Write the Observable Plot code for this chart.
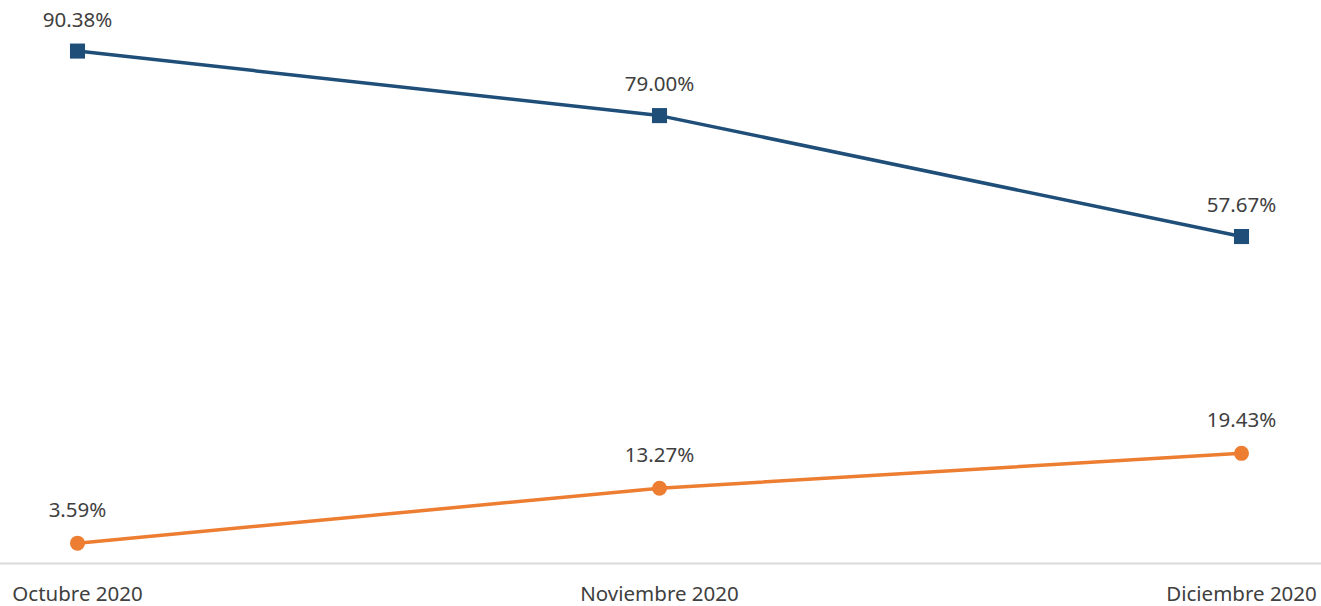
<!DOCTYPE html>
<html><head><meta charset="utf-8">
<script src="https://cdn.jsdelivr.net/npm/d3@7"></script>
<script src="https://cdn.jsdelivr.net/npm/@observablehq/plot@0.6"></script>
<style>body{margin:0;background:#fff}</style>
</head><body><div id="chart"></div>
<script>
const months = ["Octubre 2020", "Noviembre 2020", "Diciembre 2020"];
const seriesA = [90.38, 79.00, 57.67];
const seriesB = [3.59, 13.27, 19.43];
const dataA = months.map((m, i) => ({month: m, value: seriesA[i]}));
const dataB = months.map((m, i) => ({month: m, value: seriesB[i]}));
const blue = "#1F4E79", orange = "#ED7D31";
const fmt = v => v.toFixed(2) + "%";
const chart = Plot.plot({
  width: 1321, height: 606,
  marginLeft: 76, marginRight: 80, marginTop: 0, marginBottom: 43,
  style: {fontFamily: "'Noto Sans', sans-serif", fontSize: "20px", color: "#404040", background: "#fff"},
  x: {type: "point", domain: months, padding: 0, label: null},
  y: {domain: [0, 99.3], axis: null},
  marks: [
    Plot.ruleY([0], {stroke: "#d9d9d9", strokeWidth: 2, insetLeft: -76, insetRight: -80}),
    Plot.line(dataA, {x: "month", y: "value", stroke: blue, strokeWidth: 3.5}),
    Plot.line(dataB, {x: "month", y: "value", stroke: orange, strokeWidth: 3.5}),
    Plot.dot(dataA, {x: "month", y: "value", symbol: "square", r: 8.5, fill: blue}),
    Plot.dot(dataB, {x: "month", y: "value", symbol: "circle", r: 7.5, fill: orange}),
    Plot.text(dataA, {x: "month", y: "value", text: d => fmt(d.value), dy: -31, fill: "#404040", fontSize: 20.5}),
    Plot.text(dataB, {x: "month", y: "value", text: d => fmt(d.value), dy: -33, fill: "#404040", fontSize: 20.5}),
    Plot.axisX({tickSize: 0, tickPadding: 23, fontSize: 20.5, fill: "#404040", label: null})
  ]
});
document.getElementById("chart").appendChild(chart);
</script></body></html>
